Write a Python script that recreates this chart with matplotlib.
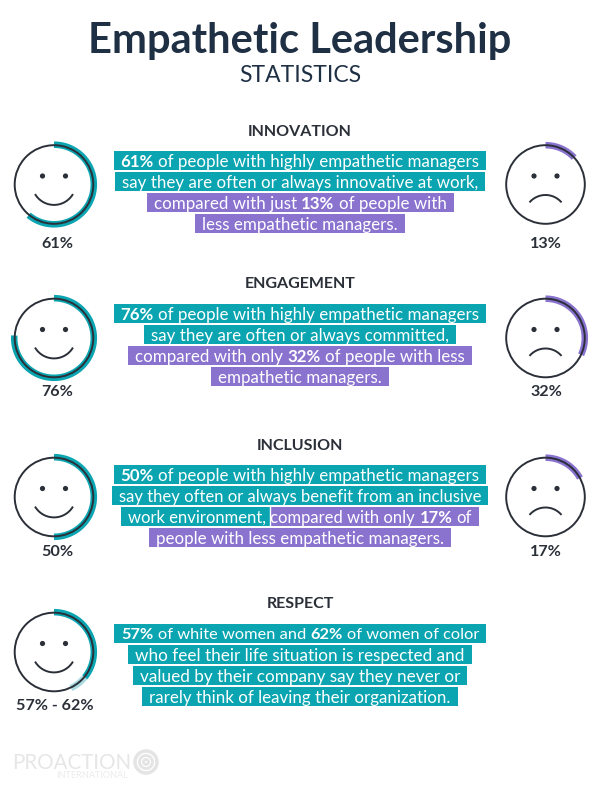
import numpy as np
import matplotlib
matplotlib.use("Agg")
import matplotlib.pyplot as plt
from matplotlib.patches import Rectangle, Circle

plt.rcParams["font.family"] = ["Lato", "DejaVu Sans"]

TEAL = "#0aa5b1"
PURPLE = "#8a72cf"
NAVY = "#1f3044"
DARK = "#2a2f38"

sections = ["INNOVATION", "ENGAGEMENT", "INCLUSION", "RESPECT"]
# share of the ring that is filled, the respect ring is drawn shorter than its label
left_pct = [61, 76, 50, 36]
left_extra = [0, 0, 0, 7]
right_pct = [13, 32, 17, None]
left_labels = ["61%", "76%", "50%", "57% - 62%"]
right_labels = ["13%", "32%", "17%", None]

# each line is a list of runs: text, bold, colour
innovation = [
    [("61%", True, "t"), (" of people with highly empathetic managers", False, "t")],
    [("say they are often or always innovative at work,", False, "t")],
    [("compared with just ", False, "p"), ("13%", True, "p"), (" of people with", False, "p")],
    [("less empathetic managers.", False, "p")],
]
engagement = [
    [("76%", True, "t"), (" of people with highly empathetic managers", False, "t")],
    [("say they are often or always committed,", False, "t")],
    [("compared with only ", False, "p"), ("32%", True, "p"), (" of people with less", False, "p")],
    [("empathetic managers.", False, "p")],
]
inclusion = [
    [("50%", True, "t"), (" of people with highly empathetic managers", False, "t")],
    [("say they often or always benefit from an inclusive", False, "t")],
    [("work environment, ", False, "t"), ("compared with only ", False, "p"), ("17%", True, "p"), (" of", False, "p")],
    [("people with less empathetic managers.", False, "p")],
]
respect = [
    [("57%", True, "t"), (" of white women and ", False, "t"), ("62%", True, "t"), (" of women of color", False, "t")],
    [("who feel their life situation is respected and", False, "t")],
    [("valued by their company say they never or", False, "t")],
    [("rarely think of leaving their organization.", False, "t")],
]
paragraphs = [innovation, engagement, inclusion, respect]

fig = plt.figure(figsize=(6, 7.86), dpi=100)
ax = fig.add_axes([0, 0, 1, 1])
ax.set_xlim(0, 600)
ax.set_ylim(786, 0)
ax.axis("off")
fig.canvas.draw()
renderer = fig.canvas.get_renderer()

FS = 12.2
# a few lines run wider in this font than in the original
line_fs = {(2, 1): 12.0, (2, 2): 12.0, (3, 0): 11.8, (3, 1): 12.3, (3, 2): 12.3}


def run_width(s, bold, fs):
    # bars around the text so trailing spaces have to count
    w = "bold" if bold else "normal"
    t1 = ax.text(0, 0, "|" + s + "|", fontsize=fs, fontweight=w)
    t2 = ax.text(0, 0, "||", fontsize=fs, fontweight=w)
    width = t1.get_window_extent(renderer).width - t2.get_window_extent(renderer).width
    t1.remove()
    t2.remove()
    return width


def draw_line(top, runs, fs=FS, cx=300, h=18.5, pad=7):
    widths = [run_width(r[0], r[1], fs) for r in runs]
    x = cx - sum(widths) / 2
    start = x
    # background bars first
    for i, (run, wd) in enumerate(zip(runs, widths)):
        x0 = x - (pad if i == 0 else 0)
        x1 = x + wd + (pad if i == len(runs) - 1 else 0)
        ax.add_patch(Rectangle((x0, top), x1 - x0, h, color=TEAL if run[2] == "t" else PURPLE, lw=0))
        if i > 0 and runs[i - 1][2] != run[2]:
            ax.plot([x, x], [top, top + h], color="white", lw=1)
        x += wd
    x = start
    for run, wd in zip(runs, widths):
        # leading spaces get stripped from the layout, move past them
        s = run[0].lstrip()
        off = wd - run_width(s, run[1], fs) if s != run[0] else 0
        ax.text(x + off, top + h / 2 + 0.3, s.rstrip(), color="white", fontsize=fs,
                fontweight="bold" if run[1] else "normal", va="center_baseline", ha="left")
        x += wd


def arc(cx, cy, r, p0, p1, color, lw, alpha=1):
    th = np.radians(np.linspace(p0, p1, 100) * 3.6)
    ax.plot(cx + r * np.sin(th), cy - r * np.cos(th), color=color, lw=lw, alpha=alpha,
            solid_capstyle="butt")


def face(cx, cy, happy):
    ax.add_patch(Circle((cx, cy), 39.3, fill=False, ec=DARK, lw=1.4, zorder=3))
    for dx in (-11.5, 11.5):
        ax.add_patch(Circle((cx + dx, cy - 8.5), 2.6, color=DARK, lw=0, zorder=3))
    # mouth is a shallow arc
    if happy:
        th = np.radians(np.linspace(-57, 57, 40))
        ax.plot(cx + 22 * np.sin(th), cy - 1.6 + 22 * np.cos(th), color=DARK, lw=1.4, zorder=3)
    else:
        th = np.radians(np.linspace(-47, 47, 40))
        ax.plot(cx + 21 * np.sin(th), cy + 31.5 - 21 * np.cos(th), color=DARK, lw=1.4, zorder=3)


ax.text(300, 38, "Empathetic Leadership", ha="center", va="center_baseline", fontsize=30,
        fontweight="bold", color=NAVY)
ax.text(300, 73, "STATISTICS", ha="center", va="center_baseline", fontsize=16.5,
        color=NAVY)

header_y = [131, 283, 445, 603]
bar_top = [151, 304, 465, 624]
face_y = [184.5, 338, 497, 652]
label_y = [242, 391, 551, 705]

for i, name in enumerate(sections):
    ax.text(300, header_y[i], name, ha="center", va="center_baseline", fontsize=11.5,
            fontweight="bold", color=DARK)
    for j, runs in enumerate(paragraphs[i]):
        draw_line(bar_top[i] + j * 21, runs, line_fs.get((i, j), FS))
    cy = face_y[i]
    arc(54, cy, 39.8, 0, left_pct[i], TEAL, 4.7)
    if left_extra[i]:
        arc(54, cy, 39.8, left_pct[i], left_pct[i] + left_extra[i], "#a9dbe0", 4.7)
    face(54, cy, True)
    ax.text(57 if i < 3 else 54.5, label_y[i], left_labels[i], ha="center", va="center_baseline",
            fontsize=11.6, fontweight="bold", color=DARK)
    if right_pct[i] is not None:
        arc(545.5, cy, 39.3, 0, right_pct[i], PURPLE, 4.7)
        face(545.5, cy, False)
        ax.text(546, label_y[i], right_labels[i], ha="center", va="center_baseline",
                fontsize=11.6, fontweight="bold", color=DARK)

# faint logo at the bottom
ax.text(12, 761, "PROACTION", ha="left", va="center_baseline", fontsize=14.8, color="#e6e6e6")
ax.text(128, 775, "INTERNATIONAL", ha="right", va="center_baseline", fontsize=6.6, color="#ececec")
for r, lw in ((11, 2.5), (6.5, 2), (2.5, 2)):
    ax.add_patch(Circle((146, 762), r, fill=False, ec="#e4e4e4", lw=lw))

fig.savefig("out.png", dpi=100, facecolor="white")
